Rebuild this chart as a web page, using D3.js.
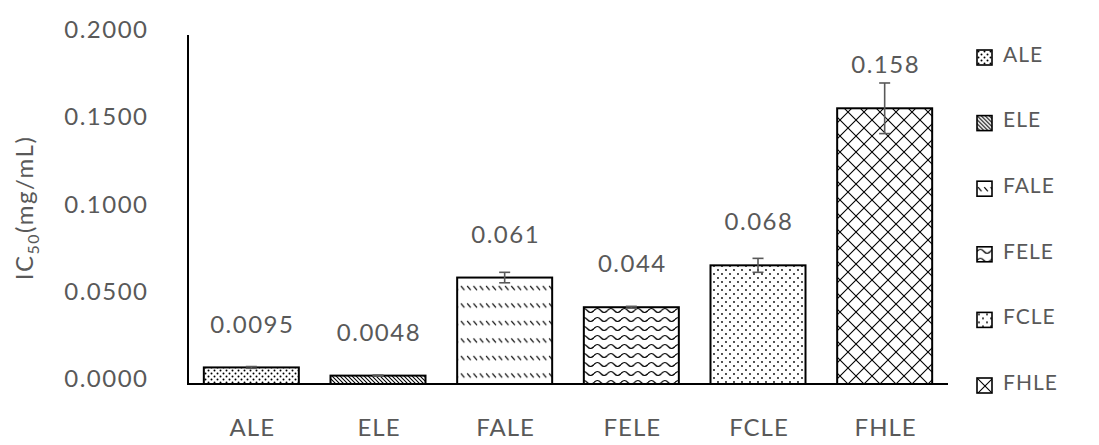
<!DOCTYPE html>
<html>
<head>
<meta charset="utf-8">
<script src="https://cdn.jsdelivr.net/npm/d3@7"></script>
<style>
  html, body { margin: 0; padding: 0; background: #fff; }
  svg { display: block; }
  text { font-family: Lato, "Open Sans", sans-serif; fill: #595959; }
</style>
</head>
<body>
<svg id="chart" width="1099" height="445"></svg>
<script>
// IC50 values (mg/mL) per extract, with their standard deviations
const categories = ["ALE", "ELE", "FALE", "FELE", "FCLE", "FHLE"];
const values = [0.0095, 0.0048, 0.061, 0.044, 0.068, 0.158];
const errors = [0.0005, 0.0003, 0.003, 0.0005, 0.004, 0.0145];
const valueLabels = ["0.0095", "0.0048", "0.061", "0.044", "0.068", "0.158"];
const yTicks = [0, 0.05, 0.1, 0.15, 0.2];
const patternIds = ["pDots", "pDiag", "pDashDiag", "pWave", "pSparse", "pDiamond"];

const svg = d3.select("#chart");
const plotLeft = 188, plotRight = 948, plotTop = 35, plotBottom = 384;

const x = d3.scaleBand().domain(categories).range([plotLeft, plotRight]).paddingInner(0.25).paddingOuter(0.125);
const y = d3.scaleLinear().domain([0, 0.2]).range([plotBottom, plotTop]);

// Fill patterns (tiles anchored at the user-space origin of the element that uses them)
const defs = svg.append("defs");
function pattern(id, w, h) {
  const p = defs.append("pattern").attr("id", id).attr("patternUnits", "userSpaceOnUse")
    .attr("width", w).attr("height", h);
  p.append("rect").attr("width", w).attr("height", h).attr("fill", "#fff");
  return p;
}

// staggered fine dots
let p = pattern("pDots", 6, 6);
p.append("circle").attr("cx", 1.5).attr("cy", 1.5).attr("r", 1).attr("fill", "#000");
p.append("circle").attr("cx", 4.5).attr("cy", 4.5).attr("r", 1).attr("fill", "#000");

// dense downward diagonal
p = pattern("pDiag", 4, 4);
p.append("path").attr("d", "M-1,-1 L5,5 M-1,3 L1,5 M3,-1 L5,1").attr("stroke", "#000").attr("stroke-width", 1.1);

// dashed downward diagonal
p = pattern("pDashDiag", 6.3, 17.5);
p.append("path").attr("d", "M1,6 L4.5,10").attr("stroke", "#000").attr("stroke-width", 1.2);

// wave
p = pattern("pWave", 13.5, 9);
p.append("path").attr("d", "M0,4.5 Q3.4,0.5 6.75,4.5 T13.5,4.5").attr("fill", "none")
  .attr("stroke", "#000").attr("stroke-width", 1.2);

// sparse dots
p = pattern("pSparse", 8, 8);
p.append("circle").attr("cx", 2).attr("cy", 2).attr("r", 0.9).attr("fill", "#000");
p.append("circle").attr("cx", 6).attr("cy", 6).attr("r", 0.9).attr("fill", "#000");

// diamond lattice
p = pattern("pDiamond", 16, 16);
p.append("path").attr("d", "M0,0 L16,16 M16,0 L0,16").attr("stroke", "#000").attr("stroke-width", 1.1);

// Y tick labels
svg.append("g").selectAll("text").data(yTicks).join("text")
  .attr("x", 148.5).attr("y", d => y(d) - 3)
  .attr("text-anchor", "end").attr("dominant-baseline", "middle")
  .style("font-size", "24px").style("letter-spacing", "1.5px")
  .text(d => d3.format(".4f")(d));

// Bars
svg.append("g").selectAll("rect").data(categories).join("rect")
  .attr("x", d => x(d)).attr("width", x.bandwidth())
  .attr("y", (d, i) => y(values[i])).attr("height", (d, i) => y(0) - y(values[i]))
  .attr("fill", (d, i) => `url(#${patternIds[i]})`)
  .attr("stroke", "#000").attr("stroke-width", 2);

// Error bars
const err = svg.append("g").attr("stroke", "#595959").attr("stroke-width", 1.6);
categories.forEach((c, i) => {
  const cx = x(c) + x.bandwidth() / 2;
  const y1 = y(values[i] + errors[i]), y2 = y(values[i] - errors[i]);
  err.append("line").attr("x1", cx).attr("x2", cx).attr("y1", y1).attr("y2", y2);
  err.append("line").attr("x1", cx - 5.5).attr("x2", cx + 5.5).attr("y1", y1).attr("y2", y1);
  err.append("line").attr("x1", cx - 5.5).attr("x2", cx + 5.5).attr("y1", y2).attr("y2", y2);
});

// Value labels
svg.append("g").selectAll("text").data(categories).join("text")
  .attr("x", d => x(d) + x.bandwidth() / 2 + 1)
  .attr("y", (d, i) => y(values[i]) - 41)
  .attr("text-anchor", "middle").attr("dominant-baseline", "middle")
  .style("font-size", "24px").style("letter-spacing", "1.5px")
  .text((d, i) => valueLabels[i]);

// Axes lines
svg.append("line").attr("x1", plotLeft).attr("x2", plotLeft).attr("y1", plotTop).attr("y2", plotBottom)
  .attr("stroke", "#000").attr("stroke-width", 2);
svg.append("line").attr("x1", plotLeft - 1).attr("x2", plotRight).attr("y1", plotBottom).attr("y2", plotBottom)
  .attr("stroke", "#000").attr("stroke-width", 2);

// X category labels
svg.append("g").selectAll("text").data(categories).join("text")
  .attr("x", d => x(d) + x.bandwidth() / 2 + 1).attr("y", 430)
  .attr("text-anchor", "middle").attr("dominant-baseline", "middle")
  .style("font-size", "24px").style("letter-spacing", "1px")
  .text(d => d);

// Y axis title
const title = svg.append("text")
  .attr("transform", "translate(33,208) rotate(-90)")
  .attr("text-anchor", "middle")
  .style("font-size", "24px").style("letter-spacing", "1.5px");
title.append("tspan").text("IC");
title.append("tspan").attr("dy", 6).style("font-size", "16px").text("50");
title.append("tspan").attr("dy", -6).text("(mg/mL)");

// Legend
const legend = svg.append("g").selectAll("g").data(categories).join("g")
  .attr("transform", (d, i) => `translate(977,${50 + i * 65.6})`);
legend.append("rect").attr("x", 0).attr("y", 0).attr("width", 15).attr("height", 15)
  .attr("fill", (d, i) => `url(#${patternIds[i]})`)
  .attr("stroke", "#000").attr("stroke-width", 1.6);
legend.append("text").attr("x", 26).attr("y", 6.5).attr("dominant-baseline", "middle")
  .style("font-size", "21px").style("letter-spacing", "1px")
  .text(d => d);
</script>
</body>
</html>
